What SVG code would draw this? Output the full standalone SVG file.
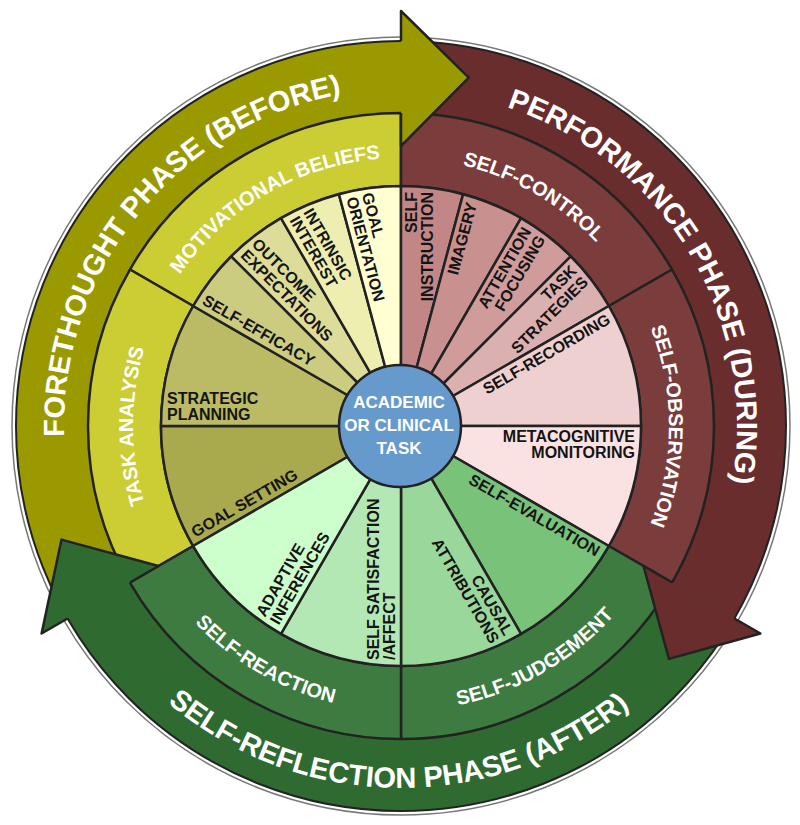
<svg xmlns="http://www.w3.org/2000/svg" width="800" height="825" viewBox="0 0 800 825">
<style>
.s{stroke:#222;stroke-width:2.5;stroke-linejoin:round}
.ol{fill:none;stroke:#222;stroke-width:2.5;stroke-linejoin:round}
.t{font-family:"Liberation Sans",Arial,Helvetica,sans-serif;font-weight:bold}
.in{font-size:16px;fill:#141414}
.e{text-anchor:end}
.m{text-anchor:middle}
.md{font-size:20px;fill:#fff}
.ph{font-size:29px;fill:#fff}
.ce{font-size:17px;fill:#fff}
</style>
<defs>
<path id="pFore" d="M 109.15 594.5 A 337 337 0 0 1 401 89"/>
<path id="pPerf" d="M 401 90 A 336 336 0 0 1 691.98 594"/>
<path id="pRefl" d="M 87.5 607 A 362 362 0 0 0 714.5 607"/>
<path id="pMot" d="M 168.91 292 A 268 268 0 0 1 401 158"/>
<path id="pTask" d="M 168.91 560 A 268 268 0 0 1 168.91 292"/>
<path id="pCtrl" d="M 401 158 A 268 268 0 0 1 633.09 292"/>
<path id="pObs" d="M 633.09 292 A 268 268 0 0 1 633.09 560"/>
<path id="pJudg" d="M 401 711 A 285 285 0 0 0 647.82 568.5"/>
<path id="pReact" d="M 154.18 568.5 A 285 285 0 0 0 401 711"/>
</defs>
<rect width="800" height="825" fill="#fff"/>
<circle cx="401" cy="426" r="389" fill="none" stroke="#777" stroke-width="1.5"/>

<g id="phase-bands">
<path fill="#9a9a00" d="M 67.58 618.5 A 385 385 0 0 1 414.44 41.23 L 411.92 113.19 A 313 313 0 0 0 129.93 582.5 Z"/>
<path fill="#6a2d2d" d="M 401 41 A 385 385 0 0 1 727.5 630.02 L 666.44 591.86 A 313 313 0 0 0 401 113 Z"/>
<path fill="#2f6a31" d="M 734.42 618.5 A 385 385 0 0 1 61.06 606.75 L 124.64 572.94 A 313 313 0 0 0 672.07 582.5 Z"/>
<circle cx="401" cy="426" r="385" fill="none" stroke="#222" stroke-width="2"/>
</g>

<g id="sub-processes">
<g id="motivational-beliefs"><path class="s" fill="#cccc33" d="M 129.93 269.5 A 313 313 0 0 1 401 113 L 401 186 A 240 240 0 0 0 193.15 306 Z"/></g>
<g id="task-analysis"><path class="s" fill="#cccc33" d="M 129.93 582.5 A 313 313 0 0 1 129.93 269.5 L 193.15 306 A 240 240 0 0 0 193.15 546 Z"/></g>
<g id="self-control"><path class="s" fill="#7b3c3c" d="M 401 113 A 313 313 0 0 1 672.07 269.5 L 608.85 306 A 240 240 0 0 0 401 186 Z"/></g>
<g id="self-observation"><path class="s" fill="#7b3c3c" d="M 672.07 269.5 A 313 313 0 0 1 672.07 582.5 L 608.85 546 A 240 240 0 0 0 608.85 306 Z"/></g>
<g id="self-judgement"><path class="s" fill="#3e7b41" d="M 672.07 582.5 A 313 313 0 0 1 401 739 L 401 666 A 240 240 0 0 0 608.85 546 Z"/></g>
<g id="self-reaction"><path class="s" fill="#3e7b41" d="M 401 739 A 313 313 0 0 1 129.93 582.5 L 193.15 546 A 240 240 0 0 0 401 666 Z"/></g>
</g>

<g id="wedges">
<g id="goal-setting"><path class="s" fill="#a9a94d" d="M 401 426 L 193.15 546 A 240 240 0 0 1 161 426 Z"/></g>
<g id="strategic-planning"><path class="s" fill="#bbbb66" d="M 401 426 L 161 426 A 240 240 0 0 1 193.15 306 Z"/></g>
<g id="self-efficacy"><path class="s" fill="#cccc80" d="M 401 426 L 193.15 306 A 240 240 0 0 1 231.29 256.29 Z"/></g>
<g id="outcome-expectations"><path class="s" fill="#dddd99" d="M 401 426 L 231.29 256.29 A 240 240 0 0 1 281 218.15 Z"/></g>
<g id="intrinsic-interest"><path class="s" fill="#eeeeb0" d="M 401 426 L 281 218.15 A 240 240 0 0 1 338.88 194.18 Z"/></g>
<g id="goal-orientation"><path class="s" fill="#ffffd2" d="M 401 426 L 338.88 194.18 A 240 240 0 0 1 401 186 Z"/></g>
<g id="self-instruction"><path class="s" fill="#c28686" d="M 401 426 L 401 186 A 240 240 0 0 1 463.12 194.18 Z"/></g>
<g id="imagery"><path class="s" fill="#c99090" d="M 401 426 L 463.12 194.18 A 240 240 0 0 1 521 218.15 Z"/></g>
<g id="attention-focusing"><path class="s" fill="#d09b9b" d="M 401 426 L 521 218.15 A 240 240 0 0 1 570.71 256.29 Z"/></g>
<g id="task-strategies"><path class="s" fill="#dbb0b0" d="M 401 426 L 570.71 256.29 A 240 240 0 0 1 608.85 306 Z"/></g>
<g id="self-recording"><path class="s" fill="#efd0d0" d="M 401 426 L 608.85 306 A 240 240 0 0 1 641 426 Z"/></g>
<g id="metacognitive-monitoring"><path class="s" fill="#fbe2e2" d="M 401 426 L 641 426 A 240 240 0 0 1 608.85 546 Z"/></g>
<g id="self-evaluation"><path class="s" fill="#78c27a" d="M 401 426 L 608.85 546 A 240 240 0 0 1 521 633.85 Z"/></g>
<g id="causal-attributions"><path class="s" fill="#9ad79b" d="M 401 426 L 521 633.85 A 240 240 0 0 1 401 666 Z"/></g>
<g id="self-satisfaction"><path class="s" fill="#b3e7b3" d="M 401 426 L 401 666 A 240 240 0 0 1 281 633.85 Z"/></g>
<g id="adaptive-inferences"><path class="s" fill="#ccffcc" d="M 401 426 L 281 633.85 A 240 240 0 0 1 193.15 546 Z"/></g>
</g>

<g id="task-centre">
<circle class="s" cx="400" cy="426" r="61" fill="#6699cc"/>
<text class="t ce m" x="399" y="408">ACADEMIC</text>
<text class="t ce m" x="399" y="431">OR CLINICAL</text>
<text class="t ce m" x="399" y="454">TASK</text>
</g>

<g id="phase-arrowheads">
<polygon fill="#9a9a00" points="401,11 468.74,77.52 401,146"/>
<path class="ol" d="M 401 41 L 401 11 L 468.74 77.52 L 401 146 L 401 113"/>
<polygon fill="#6a2d2d" points="760.4,633.5 668.92,658.9 643.49,566"/>
<path class="ol" d="M 734.42 618.5 L 760.4 633.5 L 668.92 658.9 L 643.49 566 L 672.07 582.5"/>
<polygon fill="#2f6a31" points="41.6,633.5 61.5,539.6 158.51,566"/>
<path class="ol" d="M 67.58 618.5 L 41.6 633.5 L 61.5 539.6 L 158.51 566 L 129.93 582.5"/>
</g>

<g id="phase-labels">
<text class="t ph m"><textPath href="#pFore" startOffset="57.5%">FORETHOUGHT PHASE (BEFORE)</textPath></text>
<text class="t ph m"><textPath href="#pPerf" startOffset="49.2%">PERFORMANCE PHASE (DURING)</textPath></text>
<text class="t ph m"><textPath href="#pRefl" startOffset="49.6%">SELF-REFLECTION PHASE (AFTER)</textPath></text>
</g>

<g id="sub-process-labels">
<text class="t md m"><textPath href="#pMot" startOffset="50%">MOTIVATIONAL BELIEFS</textPath></text>
<text class="t md m"><textPath href="#pTask" startOffset="50%">TASK ANALYSIS</textPath></text>
<text class="t md m"><textPath href="#pCtrl" startOffset="50%">SELF-CONTROL</textPath></text>
<text class="t md m"><textPath href="#pObs" startOffset="50%">SELF-OBSERVATION</textPath></text>
<text class="t md m"><textPath href="#pJudg" startOffset="50%">SELF-JUDGEMENT</textPath></text>
<text class="t md m"><textPath href="#pReact" startOffset="50%">SELF-REACTION</textPath></text>
</g>

<g id="wedge-labels">
<text class="t in" transform="translate(195.35 537.8) rotate(-30)">GOAL SETTING</text>
<text class="t in" x="167" y="404">STRATEGIC</text>
<text class="t in" x="167" y="420">PLANNING</text>
<text class="t in" transform="translate(201.35 303.8) rotate(30)">SELF-EFFICACY</text>
<text class="t in" transform="translate(251.1 244.98) rotate(45)">OUTCOME</text>
<text class="t in" transform="translate(239.78 256.3) rotate(45)">EXPECTATIONS</text>
<text class="t in" transform="translate(303.05 212.35) rotate(60)">INTRINSIC</text>
<text class="t in" transform="translate(289.2 220.35) rotate(60)">INTEREST</text>
<text class="t in" transform="translate(361.69 194.28) rotate(75)">GOAL</text>
<text class="t in" transform="translate(346.24 198.42) rotate(75)">ORIENTATION</text>
<text class="t in e" transform="translate(417 192) rotate(-90)">SELF</text>
<text class="t in e" transform="translate(433 192) rotate(-90)">INSTRUCTION</text>
<text class="t in e" transform="translate(477.01 204.11) rotate(-75)">IMAGERY</text>
<text class="t in e" transform="translate(531.86 231.35) rotate(-60)">ATTENTION</text>
<text class="t in e" transform="translate(545.71 239.35) rotate(-60)">FOCUSING</text>
<text class="t in e" transform="translate(577.77 271.85) rotate(-45)">TASK</text>
<text class="t in e" transform="translate(589.09 283.17) rotate(-45)">STRATEGIES</text>
<text class="t in e" transform="translate(611.65 322.86) rotate(-30)">SELF-RECORDING</text>
<text class="t in e" x="635" y="442">METACOGNITIVE</text>
<text class="t in e" x="635" y="458">MONITORING</text>
<text class="t in e" transform="translate(595.65 556.86) rotate(30)">SELF-EVALUATION</text>
<text class="t in e" transform="translate(504.14 636.65) rotate(60)">CAUSAL</text>
<text class="t in e" transform="translate(490.29 644.65) rotate(60)">ATTRIBUTIONS</text>
<text class="t in" transform="translate(379 660) rotate(-90)">SELF SATISFACTION</text>
<text class="t in" transform="translate(395 660) rotate(-90)">/AFFECT</text>
<text class="t in" transform="translate(264.95 617.65) rotate(-60)">ADAPTIVE</text>
<text class="t in" transform="translate(278.8 625.65) rotate(-60)">INFERENCES</text>
</g>
</svg>
